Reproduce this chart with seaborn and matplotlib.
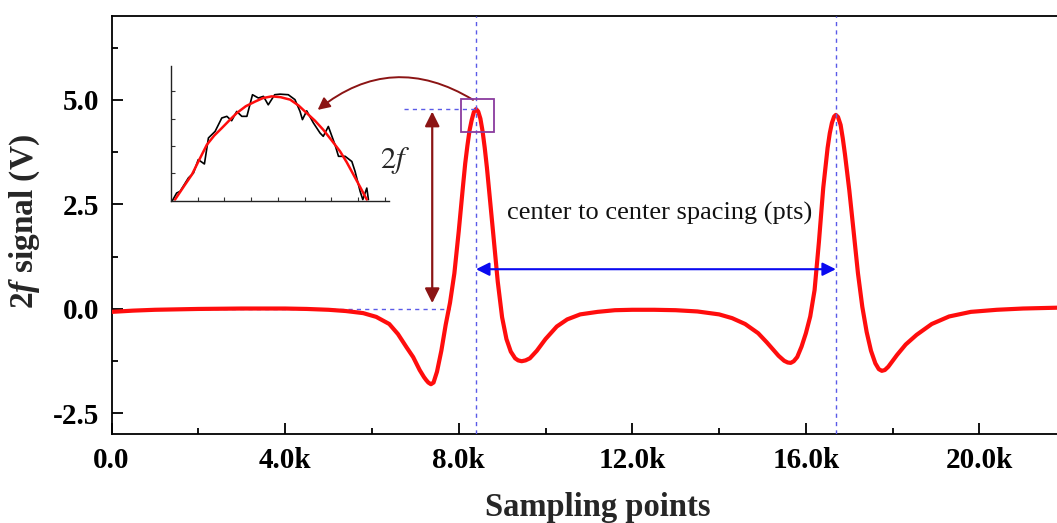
import numpy as np
import pandas as pd
import matplotlib
matplotlib.use("Agg")
import matplotlib.pyplot as plt
import seaborn as sns
from matplotlib.patches import Rectangle

# ---------------- data ----------------
x_pts = [0, 500, 1000, 1500, 2000, 3000, 4000, 4500, 5000, 5400, 5800, 6100, 6400, 6600,
         6800, 6950, 7100, 7200, 7250, 7300, 7360, 7420, 7500, 7600, 7700, 7800, 7900, 8000,
         8100, 8150, 8200, 8250, 8300, 8350, 8400, 8450, 8500, 8550, 8600, 8650, 8700,
         8800, 8900, 9000, 9100, 9200, 9300, 9370, 9450, 9540, 9640, 9800, 10000, 10260,
         10500, 10800, 11200, 11600, 12000, 12500, 13000, 13500, 14000, 14300, 14600,
         14900, 15100, 15370, 15500, 15580, 15650, 15720, 15800, 15900, 16000, 16100,
         16200, 16300, 16400, 16500, 16550, 16600, 16650, 16690, 16740, 16800, 16850,
         16900, 17000, 17100, 17200, 17300, 17400, 17500, 17600, 17680, 17750, 17820,
         17900, 18100, 18300, 18550, 18900, 19300, 19800, 20400, 21000, 21800]
signal_2f = [-0.07, -0.04, -0.02, -0.01, 0.00, 0.01, 0.01, 0.00, -0.02, -0.05, -0.10, -0.19,
             -0.36, -0.60, -0.92, -1.15, -1.46, -1.63, -1.70, -1.76, -1.80, -1.76, -1.50,
             -1.00, -0.38, 0.15, 0.85, 1.85, 2.95, 3.48, 3.90, 4.27, 4.52, 4.71, 4.78, 4.72,
             4.55, 4.25, 3.85, 3.38, 2.84, 1.75, 0.65, -0.20, -0.72, -1.02, -1.18, -1.23,
             -1.25, -1.23, -1.18, -1.00, -0.72, -0.42, -0.25, -0.13, -0.07, -0.03, -0.02,
             -0.02, -0.03, -0.06, -0.13, -0.22, -0.36, -0.58, -0.80, -1.12, -1.24, -1.28,
             -1.29, -1.25, -1.15, -0.90, -0.58, -0.18, 0.45, 1.60, 2.90, 3.85, 4.20, 4.45,
             4.60, 4.64, 4.59, 4.40, 4.08, 3.70, 2.84, 1.85, 0.85, 0.05, -0.55, -1.00, -1.30,
             -1.44, -1.48, -1.46, -1.38, -1.10, -0.85, -0.62, -0.36, -0.18, -0.07, -0.02,
             0.01, 0.03]

# inset: raw (noisy) and fitted peak top, in inset units
inset_raw_x = [0.05, 0.21, 0.34, 0.65, 0.84, 1.02, 1.25, 1.40, 1.65, 1.90, 2.09, 2.27, 2.46,
               2.65, 2.84, 3.05, 3.27, 3.46, 3.64, 3.88, 4.08, 4.39, 4.64, 4.83, 4.92, 5.08,
               5.33, 5.58, 5.70, 5.89, 6.14, 6.27, 6.52, 6.77, 6.89, 7.08, 7.18, 7.33, 7.39]
inset_raw_y = [0.00, 0.28, 0.34, 0.83, 1.01, 1.50, 1.34, 2.29, 2.53, 3.02, 3.08, 2.92, 3.26,
               3.08, 3.08, 3.87, 3.75, 3.81, 3.50, 3.87, 3.89, 3.87, 3.69, 3.26, 2.96, 3.28,
               2.84, 2.47, 2.35, 2.71, 2.04, 1.62, 1.62, 1.43, 1.07, 0.34, 0.04, 0.46, 0.04]
inset_fit_x = [0.15, 0.50, 0.78, 1.05, 1.34, 1.62, 1.90, 2.18, 2.46, 2.80, 3.15, 3.45, 3.77,
               4.10, 4.46, 4.77, 5.08, 5.39, 5.70, 6.00, 6.33, 6.58, 6.83, 7.08, 7.33]
inset_fit_y = [0.04, 0.55, 0.95, 1.48, 2.04, 2.38, 2.65, 2.93, 3.20, 3.45, 3.62, 3.75, 3.81,
               3.78, 3.69, 3.48, 3.20, 2.92, 2.59, 2.22, 1.80, 1.40, 0.95, 0.50, 0.04]

x_ticks = [0, 4000, 8000, 12000, 16000, 20000]
x_tick_labels = ["0.0", "4.0k", "8.0k", "12.0k", "16.0k", "20.0k"]
y_ticks = [-2.5, 0.0, 2.5, 5.0]
y_tick_labels = ["-2.5", "0.0", "2.5", "5.0"]

# ---------------- style ----------------
sns.set_theme(style="ticks")
plt.rcParams["font.family"] = ["Liberation Serif", "DejaVu Serif"]
plt.rcParams["axes.unicode_minus"] = False
plt.rcParams["mathtext.fontset"] = "custom"
plt.rcParams["mathtext.rm"] = "Liberation Serif:bold"
plt.rcParams["mathtext.bf"] = "Liberation Serif:bold"
plt.rcParams["mathtext.it"] = "Liberation Serif:italic:bold"

df = pd.DataFrame({"x": x_pts, "y": signal_2f})

fig = plt.figure(figsize=(10.57, 5.23), dpi=100)
ax = fig.add_axes([0.1055, 0.1694, 0.8945, 0.7996])

sns.lineplot(data=df, x="x", y="y", ax=ax, color="#ff0d0d", lw=3.0, zorder=3,
             solid_joinstyle="round", solid_capstyle="round")

ax.set_xlim(0, 21786)
ax.set_ylim(-3.0, 7.0)
ax.set_xticks(x_ticks, x_tick_labels, fontweight="bold")
ax.set_yticks(y_ticks, y_tick_labels, fontweight="bold")
ax.set_xticks(np.arange(2000, 21786, 4000), minor=True)
ax.set_yticks([-1.25, 1.25, 3.75, 6.25], minor=True)
ax.tick_params(axis="both", which="major", direction="in", length=8, width=1.3,
               labelsize=21, pad=9, top=False, right=False, colors="black")
ax.tick_params(axis="both", which="minor", direction="in", length=4.5, width=1.3,
               top=False, right=False, colors="black")
for s in ["left", "bottom", "top"]:
    ax.spines[s].set_linewidth(1.3)
    ax.spines[s].set_color("black")
ax.spines["right"].set_visible(False)

ax.set_xlabel("Sampling points", fontsize=23.5, fontweight="bold")
ax.xaxis.set_label_coords(0.514, -0.137)
ax.set_ylabel("$2f$ signal (V)", fontsize=24, fontweight="bold")
ax.yaxis.set_label_coords(-0.074, 0.51)

# ---------------- annotations ----------------
xs = np.array(x_pts)
ys = np.array(signal_2f)
half = xs < 12000
p1 = int(np.argmax(np.where(half, ys, -99)))
p2 = int(np.argmax(np.where(~half, ys, -99)))
p1x, p1y = xs[p1], ys[p1]
p2x = xs[p2]

dash_c = "#5b5be8"
ax.axvline(p1x, color=dash_c, lw=1.0, ls=(0, (3, 3)), zorder=5)
ax.axvline(p2x, color=dash_c, lw=1.0, ls=(0, (3, 3)), zorder=5)
ax.plot([2000, 7800], [0, 0], color=dash_c, lw=1.0, ls=(0, (3, 3)), zorder=2)
ax.plot([6740, p1x], [p1y, p1y], color=dash_c, lw=1.0, ls=(0, (3, 3)), zorder=5)

dark_red = "#8b1414"
ax.annotate("", xy=(7390, 0.14), xytext=(7390, 4.72),
            arrowprops=dict(arrowstyle="<|-|>", color=dark_red, lw=1.6,
                            mutation_scale=22, shrinkA=0, shrinkB=0))
ax.text(6530, 3.56, "$2f$", fontsize=22, ha="center", va="center",
        math_fontfamily="stix")

ax.annotate("", xy=(p2x, 0.95), xytext=(p1x, 0.95),
            arrowprops=dict(arrowstyle="<|-|>", color="#0a0af0", lw=1.5,
                            mutation_scale=20, shrinkA=0, shrinkB=0), zorder=6)
ax.text(12620, 2.29, "center to center spacing (pts)", fontsize=19,
        ha="center", va="center", color="#111111")

ax.add_patch(Rectangle((8060, 4.22), 750, 0.80, fill=False, edgecolor="#8a3c9e",
                       lw=1.3, zorder=6))
ax.annotate("", xy=(4750, 4.76), xytext=(8330, 5.0),
            arrowprops=dict(arrowstyle="-|>", color=dark_red, lw=1.4,
                            mutation_scale=18, shrinkA=0, shrinkB=0,
                            connectionstyle="arc3,rad=0.35"))

# ---------------- inset ----------------
axi = fig.add_axes([0.1618, 0.6163, 0.2062, 0.2581])
axi.patch.set_alpha(0)
sns.lineplot(x=inset_raw_x, y=inset_raw_y, ax=axi, color="black", lw=1.2, sort=False)
sns.lineplot(x=inset_fit_x, y=inset_fit_y, ax=axi, color="#ff0d0d", lw=1.8, sort=False,
             solid_joinstyle="round")
axi.set_xlim(0, 8.16)
axi.set_ylim(0, 4.93)
axi.set_xticks(range(1, 9))
axi.set_yticks(range(1, 5))
axi.tick_params(direction="in", length=3, width=0.8, labelbottom=False, labelleft=False,
                colors="#333333")
for s in ["top", "right"]:
    axi.spines[s].set_visible(False)
for s in ["left", "bottom"]:
    axi.spines[s].set_linewidth(1.0)
    axi.spines[s].set_color("#222222")
axi.set_xlabel("")
axi.set_ylabel("")

fig.savefig("out.png", dpi=100)
